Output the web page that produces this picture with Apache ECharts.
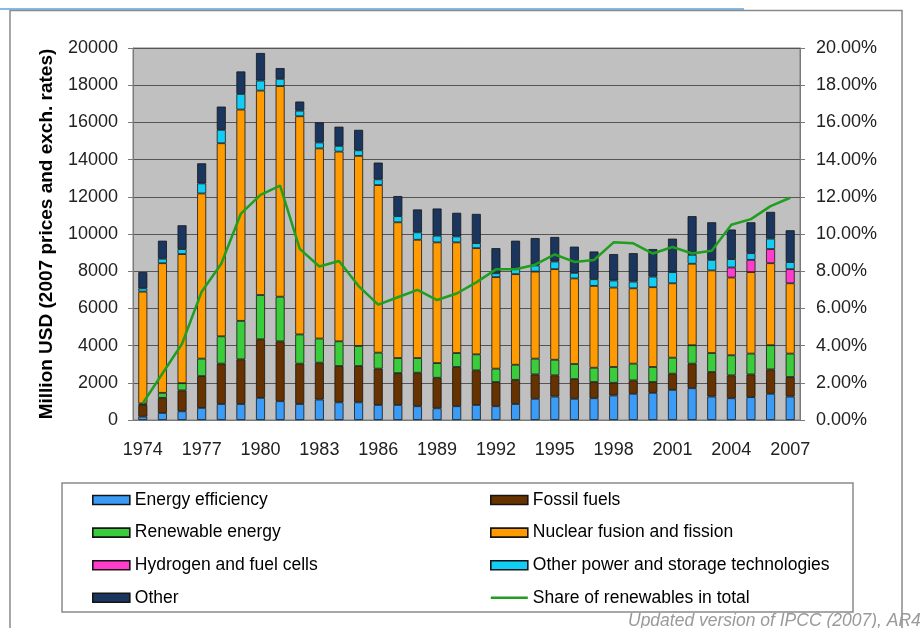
<!DOCTYPE html>
<html>
<head>
<meta charset="utf-8">
<script src="https://cdn.jsdelivr.net/npm/echarts@6/dist/echarts.min.js"></script>
<style>
  html, body { margin: 0; padding: 0; background: #fff; }
  #chart { width: 921px; height: 628px; }
</style>
</head>
<body>
<div id="chart"></div>
<script>
var years = [];
for (var y = 1974; y <= 2007; y++) years.push(String(y));

// Million USD (2007 prices)
var efficiency = [180, 380, 470, 650, 860, 860, 1190, 1010, 860, 1100, 950, 950, 810, 810, 740, 630, 740, 810, 740, 860, 1140, 1260, 1140, 1170, 1320, 1410, 1460, 1620, 1710, 1260, 1170, 1230, 1410, 1260];
var fossil = [630, 810, 1120, 1710, 2170, 2400, 3150, 3220, 2170, 1980, 1950, 1950, 1950, 1710, 1800, 1640, 2110, 1860, 1300, 1300, 1310, 1140, 1060, 870, 680, 720, 580, 870, 1320, 1320, 1230, 1220, 1310, 1050];
var renewable = [80, 270, 390, 940, 1470, 2070, 2380, 2400, 1570, 1300, 1330, 1080, 860, 810, 790, 790, 750, 860, 720, 810, 850, 840, 810, 770, 850, 900, 810, 860, 990, 1020, 1080, 1120, 1300, 1260];
var nuclear = [6010, 6970, 6940, 8880, 10380, 11360, 10990, 11320, 11730, 10220, 10200, 10220, 9010, 7300, 6360, 6490, 5950, 5710, 4920, 4870, 4680, 4870, 4600, 4400, 4270, 4050, 4290, 4000, 4380, 4440, 4180, 4380, 4410, 3780];
var hydrogen = [0, 0, 0, 0, 0, 0, 0, 0, 0, 0, 0, 0, 0, 0, 0, 0, 0, 0, 0, 0, 0, 0, 0, 0, 0, 0, 0, 0, 0, 0, 540, 660, 760, 760];
var otherPower = [180, 240, 270, 540, 720, 840, 540, 390, 300, 320, 310, 300, 310, 330, 400, 360, 320, 270, 210, 290, 330, 410, 300, 360, 380, 360, 570, 600, 480, 570, 450, 360, 560, 380];
var other = [870, 970, 1280, 1080, 1250, 1210, 1480, 580, 490, 1080, 1030, 1100, 900, 1080, 1230, 1460, 1270, 1570, 1350, 1510, 1470, 1320, 1410, 1490, 1420, 1530, 1480, 1800, 2080, 2020, 1590, 1660, 1440, 1710];
// share of renewables in total, %
var share = [0.9, 2.5, 4.1, 6.9, 8.4, 11.1, 12.1, 12.6, 9.2, 8.25, 8.55, 7.2, 6.2, 6.6, 7.0, 6.45, 6.8, 7.4, 8.1, 8.1, 8.35, 8.9, 8.5, 8.6, 9.55, 9.5, 8.95, 9.3, 8.95, 9.1, 10.5, 10.8, 11.5, 11.95];

var font = "'Liberation Sans', Arial, sans-serif";
// thin line icon for the legend (corner specks keep the 37x9 box)
var lineIcon = "path://M0,0L0.01,0L0.01,0.01Z M36.99,8.99L37,8.99L37,9Z M0,3.3H37V5.7H0Z";

function barSeries(name, data, color) {
  return {
    name: name,
    type: "bar",
    stack: "total",
    barWidth: 9,
    data: data.map(function (v) { return v === 0 ? "-" : v; }),
    itemStyle: { color: color, borderColor: "#151515", borderWidth: 0.8 },
  };
}

var legendText = { fontSize: 17.5, color: "#000", fontFamily: font };

var myChart = echarts.init(document.getElementById("chart"));
myChart.setOption({
  backgroundColor: "#fff",
  animation: false,
  textStyle: { fontFamily: font },
  grid: {
    left: 133,
    right: 121,
    top: 48,
    bottom: 208,
    show: true,
    backgroundColor: "#c0c0c0",
    borderColor: "#7a7a7a",
    borderWidth: 1,
  },
  legend: [
    {
      orient: "vertical",
      left: 87,
      top: 486,
      icon: "rect",
      itemWidth: 37,
      itemHeight: 9,
      itemGap: 14.6,
      itemStyle: { borderColor: "#151515", borderWidth: 1.6 },
      textStyle: legendText,
      data: ["Energy efficiency", "Renewable energy", "Hydrogen and fuel cells", "Other"],
    },
    {
      orient: "vertical",
      left: 485,
      top: 486,
      icon: "rect",
      itemWidth: 37,
      itemHeight: 9,
      itemGap: 14.6,
      itemStyle: { borderColor: "#151515", borderWidth: 1.6 },
      textStyle: legendText,
      data: [
        "Fossil fuels",
        "Nuclear fusion and fission",
        "Other power and storage technologies",
        { name: "Share of renewables in total", icon: lineIcon, itemStyle: { color: "#1f9e1f", borderWidth: 0 } },
      ],
    },
  ],
  xAxis: {
    type: "category",
    data: years,
    axisLine: { lineStyle: { color: "#7a7a7a" } },
    axisTick: { interval: 0, length: 4, lineStyle: { color: "#7a7a7a" } },
    axisLabel: { interval: 2, fontSize: 18, color: "#222", margin: 21 },
  },
  yAxis: [
    {
      type: "value",
      min: 0,
      max: 20000,
      interval: 2000,
      name: "Million USD (2007 prices and exch. rates)",
      nameLocation: "middle",
      nameGap: 77,
      nameTextStyle: { fontSize: 19, fontWeight: "bold", color: "#000" },
      axisLine: { show: true, lineStyle: { color: "#7a7a7a" } },
      axisTick: { show: true, length: 5, lineStyle: { color: "#7a7a7a" } },
      axisLabel: {
        fontSize: 18,
        color: "#222",
        margin: 15,
        formatter: function (v) { return String(v); },
      },
      splitLine: { lineStyle: { color: "#555", width: 1.2 } },
    },
    {
      type: "value",
      min: 0,
      max: 20,
      interval: 2,
      axisLine: { show: true, lineStyle: { color: "#7a7a7a" } },
      axisTick: { show: true, length: 5, lineStyle: { color: "#7a7a7a" } },
      axisLabel: {
        fontSize: 18,
        color: "#222",
        margin: 16,
        formatter: function (v) { return v.toFixed(2) + "%"; },
      },
      splitLine: { show: false },
    },
  ],
  series: [
    barSeries("Energy efficiency", efficiency, "#3a9cf6"),
    barSeries("Fossil fuels", fossil, "#663300"),
    barSeries("Renewable energy", renewable, "#3acc3a"),
    barSeries("Nuclear fusion and fission", nuclear, "#ff9a00"),
    barSeries("Hydrogen and fuel cells", hydrogen, "#ff3ccc"),
    barSeries("Other power and storage technologies", otherPower, "#12cdf5"),
    barSeries("Other", other, "#1b365e"),
    {
      name: "Share of renewables in total",
      type: "line",
      yAxisIndex: 1,
      data: share,
      symbol: "none",
      z: 5,
      itemStyle: { color: "#1f9e1f" },
      lineStyle: { color: "#1f9e1f", width: 2.5 },
    },
  ],
  graphic: [
    {
      type: "line",
      shape: { x1: 0, y1: 9, x2: 744, y2: 9 },
      style: { stroke: "#5aa6e6", lineWidth: 1.5 },
    },
    {
      type: "rect",
      shape: { x: 10, y: 10.5, width: 892, height: 640 },
      style: { fill: null, stroke: "#8a8a8a", lineWidth: 1.5 },
    },
    {
      type: "rect",
      shape: { x: 62, y: 483, width: 791, height: 129 },
      style: { fill: null, stroke: "#8a8a8a", lineWidth: 1.5 },
    },
    {
      type: "text",
      left: 628,
      top: 612,
      style: {
        text: "Updated version of IPCC (2007), AR4",
        fill: "#9a9a9a",
        font: "italic 17.5px 'Liberation Sans', Arial, sans-serif",
      },
    },
  ],
});
</script>
</body>
</html>
